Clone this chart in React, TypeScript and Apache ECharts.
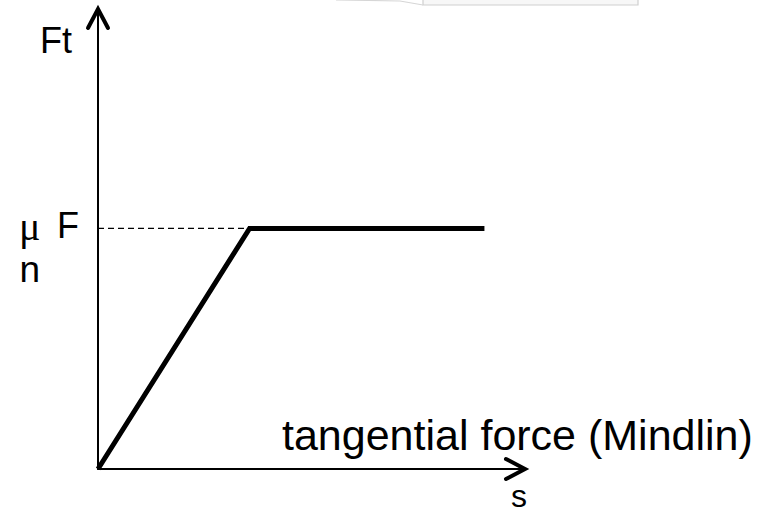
import React, { useEffect, useRef } from "react";
import * as echarts from "echarts";

// Mindlin tangential force vs. slip: linear elastic branch up to the friction limit, then sliding.
const slip = [0, 3.55, 9.05];
const tangentialForce = [0, 5.23, 5.23];
const frictionLimit = 5.23; // μ·Fn
const slipAtLimit = 3.55;

const S_MAX = 10;
const FT_MAX = 10;

const SANS = "'Liberation Sans', Arial, sans-serif";
const SERIF = "'Liberation Serif', 'Times New Roman', serif";

export default function App() {
  const ref = useRef<HTMLDivElement>(null);

  useEffect(() => {
    const chart = echarts.init(ref.current!, null, { renderer: "svg" });

    const hiddenAxis = {
      type: "value" as const,
      min: 0,
      axisLine: { show: true, onZero: false, lineStyle: { color: "#000", width: 2 } },
      axisTick: { show: false },
      axisLabel: { show: false },
      splitLine: { show: false },
    };

    chart.setOption({
      animation: false,
      grid: { left: 98, right: 239, top: 9, bottom: 47 },
      xAxis: { ...hiddenAxis, max: S_MAX },
      yAxis: { ...hiddenAxis, max: FT_MAX },
      series: [
        {
          type: "line",
          data: [[0, frictionLimit], [slipAtLimit, frictionLimit]],
          symbol: "none",
          lineStyle: { color: "#000", width: 1.3, type: [6, 4] },
          z: 1,
        },
        {
          type: "line",
          data: slip.map((s, i) => [s, tangentialForce[i]]),
          symbol: "none",
          lineStyle: { color: "#000", width: 5, join: "miter" },
          z: 2,
        },
      ],
    });

    const xEnd = chart.convertToPixel({ gridIndex: 0 }, [S_MAX, 0]) as number[];
    const yEnd = chart.convertToPixel({ gridIndex: 0 }, [0, FT_MAX]) as number[];

    const arrowStyle = { stroke: "#000", fill: "none", lineWidth: 4, lineCap: "round", lineJoin: "miter" };
    const label = (text: string, x: number, y: number, fontSize: number, family = SANS) => ({
      type: "text",
      x,
      y,
      style: { text, fontSize, fontFamily: family, fill: "#000", align: "left", verticalAlign: "middle" },
    });

    chart.setOption({
      graphic: [
        // edge of the neighbouring figure above
        {
          type: "rect",
          shape: { x: 423, y: -3, width: 215, height: 8 },
          style: { fill: "#f7f7f7", stroke: "#cfcfcf", lineWidth: 1.2 },
        },
        {
          type: "polyline",
          shape: { points: [[336, 0], [400, 1], [423, 5]] },
          style: { stroke: "#d6d6d6", fill: "none", lineWidth: 1.2 },
        },
        // axis arrowheads
        {
          type: "polyline",
          shape: { points: [[xEnd[0] - 19, xEnd[1] - 10], [xEnd[0], xEnd[1]], [xEnd[0] - 19, xEnd[1] + 10]] },
          style: arrowStyle,
        },
        {
          type: "polyline",
          shape: { points: [[yEnd[0] - 10, yEnd[1] + 19], [yEnd[0], yEnd[1]], [yEnd[0] + 10, yEnd[1] + 19]] },
          style: arrowStyle,
        },
        label("Ft", 40, 40.5, 36),
        label("μ", 19, 226, 40, SERIF),
        label("F", 57, 225.5, 36),
        label("n", 19.5, 269, 37),
        label("tangential force (Mindlin)", 282, 435, 43),
        label("s", 511, 496, 32),
      ],
    });

    return () => chart.dispose();
  }, []);

  return (
    <div
      ref={ref}
      style={{ position: "fixed", left: 0, top: 0, width: 764, height: 516, background: "#fff" }}
    />
  );
}
